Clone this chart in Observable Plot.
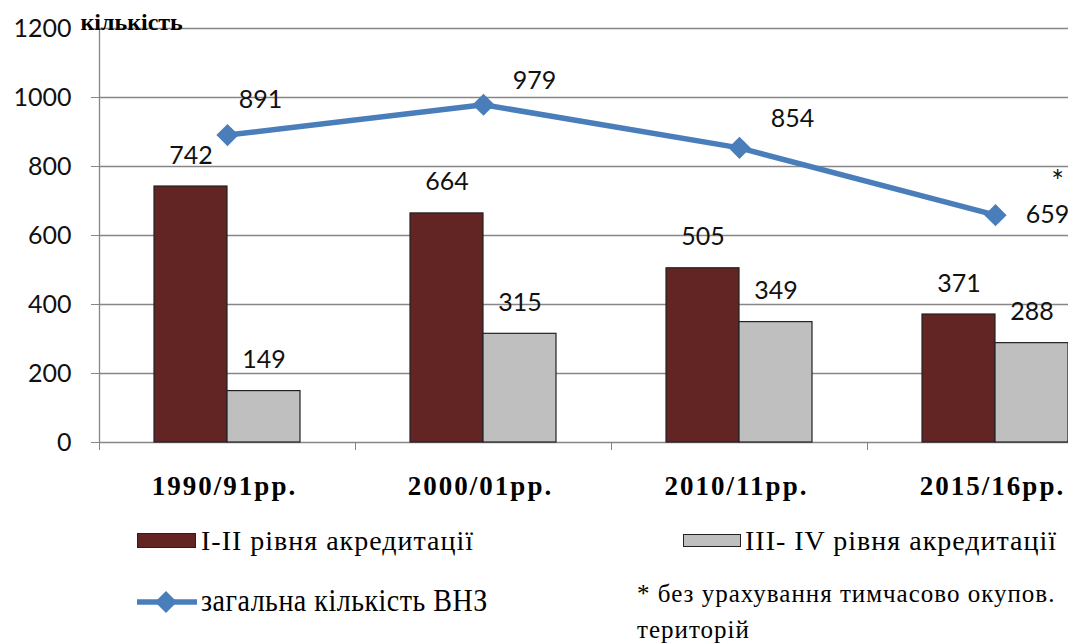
<!DOCTYPE html>
<html>
<head>
<meta charset="utf-8">
<script src="https://cdn.jsdelivr.net/npm/d3@7"></script>
<script src="https://cdn.jsdelivr.net/npm/@observablehq/plot@0.6"></script>
<style>
  html, body { margin: 0; padding: 0; background: #fff; overflow: hidden; }
  #wrap { position: relative; width: 1068px; height: 644px; overflow: hidden; background: #fff; }
  #chart svg { overflow: hidden; }
  g[font-family="Liberation Serif"] text { letter-spacing: 2px; }
  .lg { position: absolute; font-family: "Liberation Serif", "Times New Roman", serif; color: #000; white-space: nowrap; }
  .sw { position: absolute; box-sizing: border-box; border: 1px solid #222; }
</style>
</head>
<body>
<div id="wrap">
  <div id="chart"></div>
  <div id="legend"></div>
</div>
<script>
const categories = ["1990/91рр.", "2000/01рр.", "2010/11рр.", "2015/16рр."];
const level12 = [742, 664, 505, 371];
const level34 = [149, 315, 349, 288];
const total = [891, 979, 854, 659];
const yTicks = [0, 200, 400, 600, 800, 1000, 1200];
const seriesNames = ["І-ІІ рівня акредитації", "ІІІ- IV рівня акредитації", "загальна кількість ВНЗ"];
const yTitle = "кількість";
const footnote = ["* без урахування тимчасово окупов.", "територій"];

const colors = { a: "#632523", b: "#bfbfbf", t: "#4a7ebb" };

const rows = categories.map((c, i) => ({ i, c, a: level12[i], b: level34[i], t: total[i] }));
const mid = d => d.i + 0.5;
const numFont = "Lato";

// offsets of the line value labels (label placement only)
const lineLabelOffsets = [[33, -35], [51, -24], [53, -29], [52, 0]];

const marks = [
  Plot.gridY(yTicks, { stroke: "#868686", strokeOpacity: 1, strokeWidth: 1.3 }),
  Plot.axisY({ ticks: yTicks, tickSize: 8, tickPadding: 20, stroke: "#868686", label: null, fill: "#111", fontSize: 25, fontFamily: numFont, tickFormat: d => String(d) }),
  Plot.axisX({ ticks: [0, 1, 2, 3], tickSize: 8, stroke: "#868686", tickFormat: () => "", label: null }),
  Plot.ruleX([0], { stroke: "#868686", strokeWidth: 1.3 }),
  Plot.rectY(rows, { x1: d => d.i, x2: d => d.i + 1, y: "a", fill: colors.a, stroke: "#222", strokeWidth: 1.2, insetLeft: 55, insetRight: 128 }),
  Plot.rectY(rows, { x1: d => d.i, x2: d => d.i + 1, y: "b", fill: colors.b, stroke: "#222", strokeWidth: 1.2, insetLeft: 128, insetRight: 55 }),
  Plot.text(rows, { x: mid, y: "a", text: d => String(d.a), dx: -36.5, dy: -31, fontSize: 25, fontFamily: numFont, fill: "#111" }),
  Plot.text(rows, { x: mid, y: "b", text: d => String(d.b), dx: 36.5, dy: -31, fontSize: 25, fontFamily: numFont, fill: "#111" }),
  Plot.line(rows, { x: mid, y: "t", stroke: colors.t, strokeWidth: 5.5 }),
  Plot.dot(rows, { x: mid, y: "t", symbol: "diamond2", r: 10, fill: colors.t, stroke: "none" }),
  ...rows.map((d, k) => Plot.text([d], { x: mid, y: "t", text: r => String(r.t), dx: lineLabelOffsets[k][0], dy: lineLabelOffsets[k][1], fontSize: 25, fontFamily: numFont, fill: "#111" })),
  Plot.text([rows[3]], { x: mid, y: "t", text: () => "*", dx: 62, dy: -33, fontSize: 30, fontFamily: numFont, fill: "#111" }),
  Plot.text(rows, { x: mid, y: 0, dy: 44, dx: -3, text: "c", fontSize: 27, fontWeight: "bold", fontFamily: "Liberation Serif", fill: "#000" }),
  Plot.text([yTitle], { x: 0, y: 1200, dx: -19, dy: -6, text: d => d, textAnchor: "start", fontSize: 24, fontWeight: "bold", fontFamily: "Times New Roman", fill: "#000" })
];

const chart = Plot.plot({
  width: 1068,
  height: 505,
  marginTop: 28,
  marginBottom: 63,
  marginLeft: 99,
  marginRight: 0,
  style: { background: "#fff", fontFamily: numFont, fontSize: "25px", overflow: "hidden" },
  x: { type: "linear", domain: [0, 4], range: [99, 1123], axis: null },
  y: { domain: [0, 1200], axis: null },
  marks
});
document.getElementById("chart").appendChild(chart);

// Legend
const lg = document.getElementById("legend");
function add(html) { lg.insertAdjacentHTML("beforeend", html); }
add(`<div class="sw" style="left:137px;top:533px;width:59px;height:15px;background:${colors.a}"></div>`);
add(`<div class="lg" style="left:201px;top:527px;font-size:28px;line-height:28px;letter-spacing:1px">${seriesNames[0]}</div>`);
add(`<div class="sw" style="left:683px;top:534px;width:58px;height:13px;background:${colors.b}"></div>`);
add(`<div class="lg" style="left:745px;top:527px;font-size:28px;line-height:28px;letter-spacing:1px">${seriesNames[1]}</div>`);
add(`<svg style="position:absolute;left:135px;top:590px" width="64" height="24"><line x1="2" y1="12" x2="62" y2="12" stroke="${colors.t}" stroke-width="5.5"/><path d="M31,1 L42,12 L31,23 L20,12 Z" fill="${colors.t}"/></svg>`);
add(`<div class="lg" style="left:201px;top:588px;font-size:28px;line-height:28px;letter-spacing:0.5px;transform:scaleY(1.1);transform-origin:left bottom">${seriesNames[2]}</div>`);
add(`<div class="lg" style="left:637px;top:581px;font-size:25px;line-height:25px;letter-spacing:1px">${footnote[0]}</div>`);
add(`<div class="lg" style="left:637px;top:617px;font-size:25px;line-height:25px;letter-spacing:1px">${footnote[1]}</div>`);
</script>
</body>
</html>
